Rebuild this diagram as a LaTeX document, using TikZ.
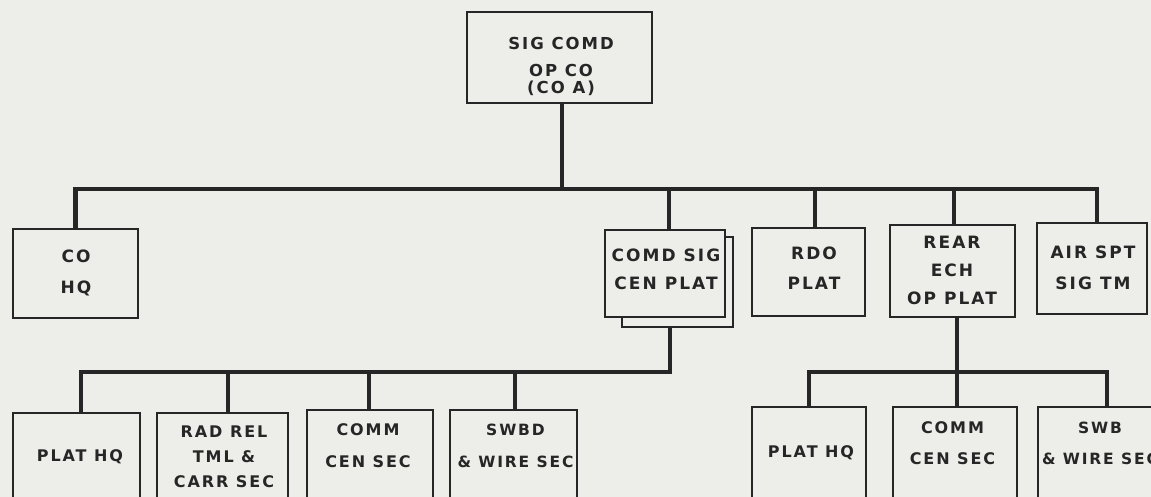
\documentclass[tikz,border=0pt]{standalone}
\usepackage{fontspec}
\newfontfamily\lblfont[LetterSpace=12]{DejaVu Sans}
\definecolor{ink}{RGB}{38,38,38}
\definecolor{paper}{RGB}{237,237,233}
\tikzset{
  orgbox/.style={draw=ink, line width=2.7pt, fill=paper, inner sep=0pt},
  lbl/.style 2 args={font=\lblfont\bfseries\fontsize{#1}{#2}\selectfont, text=ink, align=center, inner sep=0pt},
  bus/.style={draw=ink, line width=4.2pt},
}
\begin{document}
\begin{tikzpicture}[x=1pt,y=-1pt]
\useasboundingbox (0,0) rectangle (1151,497);
\fill[paper] (0,0) rectangle (1151,497);
\begin{scope}
\clip (0,0) rectangle (1151,497);
% boxes
\node[orgbox, minimum width=185pt, minimum height=91pt] (top) at (559.5,57.5) {};
\node[orgbox, minimum width=125pt, minimum height=89pt] (coho) at (75.5,273.5) {};
\node[orgbox, minimum width=111pt, minimum height=90pt] (comdsh) at (677.5,282) {};
\node[orgbox, minimum width=120pt, minimum height=87pt] (comd) at (665,273.5) {};
\node[orgbox, minimum width=113pt, minimum height=88pt] (rdo) at (808.5,272) {};
\node[orgbox, minimum width=125pt, minimum height=92pt] (rear) at (952.5,271) {};
\node[orgbox, minimum width=110pt, minimum height=91pt] (air) at (1092,268.5) {};
\node[orgbox, minimum width=127pt, minimum height=107pt] (b1) at (76.5,466.5) {};
\node[orgbox, minimum width=131pt, minimum height=107pt] (b2) at (222.5,466.5) {};
\node[orgbox, minimum width=126pt, minimum height=110pt] (b3) at (370,465) {};
\node[orgbox, minimum width=127pt, minimum height=110pt] (b4) at (513.5,465) {};
\node[orgbox, minimum width=114pt, minimum height=113pt] (c1) at (809,463.5) {};
\node[orgbox, minimum width=124pt, minimum height=113pt] (c2) at (955,463.5) {};
\node[orgbox, minimum width=138pt, minimum height=113pt] (c3) at (1107,463.5) {};
% connection points
\coordinate (mbus) at (0,189);
\coordinate (lbus) at (0,372);
\coordinate (topS) at ([xshift=2.5pt]top.south);
\coordinate (comdS) at ([xshift=4pt]comd.north);
\coordinate (rdoS) at ([xshift=6.5pt]rdo.north);
\coordinate (rearS) at ([xshift=1.5pt]rear.north);
\coordinate (airS) at ([xshift=5pt]air.north);
\coordinate (comdB) at ([xshift=-7.5pt]comdsh.south);
\coordinate (rearB) at ([xshift=4.5pt]rear.south);
\coordinate (b1S) at ([xshift=4.5pt]b1.north);
\coordinate (b2S) at ([xshift=5.5pt]b2.north);
\coordinate (b3S) at ([xshift=-1pt]b3.north);
\coordinate (b4S) at ([xshift=1.5pt]b4.north);
\coordinate (c2S) at ([xshift=2pt]c2.north);
% connectors
\draw[bus] (topS) -- (topS |- mbus);
\draw[bus] (coho.north) |- (airS |- mbus) -- (airS);
\draw[bus] (comdS |- mbus) -- (comdS);
\draw[bus] (rdoS |- mbus) -- (rdoS);
\draw[bus] (rearS |- mbus) -- (rearS);
\draw[bus] (comdB) |- (b1S |- lbus) -- (b1S);
\draw[bus] (b2S |- lbus) -- (b2S);
\draw[bus] (b3S |- lbus) -- (b3S);
\draw[bus] (b4S |- lbus) -- (b4S);
\draw[bus] (c1.north) |- (c3.north |- lbus) -- (c3.north);
\draw[bus] (rearB) -- (c2S);
% labels
\node[lbl={16.5}{27}] (topT) at (561,66) {SIG COMD\\OP CO\\[-10pt](CO A)};
\node[lbl={17}{31}] (cohoT) at (76,273) {CO\\HQ};
\node[lbl={17}{28}] (comdT) at (666,269) {COMD SIG\\CEN PLAT};
\node[lbl={17}{30}] (rdoT) at (814,268) {RDO\\PLAT};
\node[lbl={17}{28}] (rearT) at (952,270) {REAR\\ECH\\OP PLAT};
\node[lbl={17}{31}] (airT) at (1093,267.5) {AIR SPT\\SIG TM};
\node[lbl={16}{25}] (b1T) at (80,457) {PLAT HQ};
\node[lbl={16}{25}] (b2T) at (224,457) {RAD REL\\TML \&\\CARR SEC};
\node[lbl={16}{32}] (b3T) at (368,446) {COMM\\CEN SEC};
\node[lbl={15.5}{32}] (b4T) at (515.5,446) {SWBD\\\& WIRE SEC};
\node[lbl={16}{31}] (c1T) at (811,453) {PLAT HQ};
\node[lbl={16}{31}] (c2T) at (952.5,443.5) {COMM\\CEN SEC};
\node[lbl={15.5}{31}] (c3T) at (1100,443.5) {SWB\\\& WIRE SEC};
\end{scope}
\end{tikzpicture}
\end{document}
